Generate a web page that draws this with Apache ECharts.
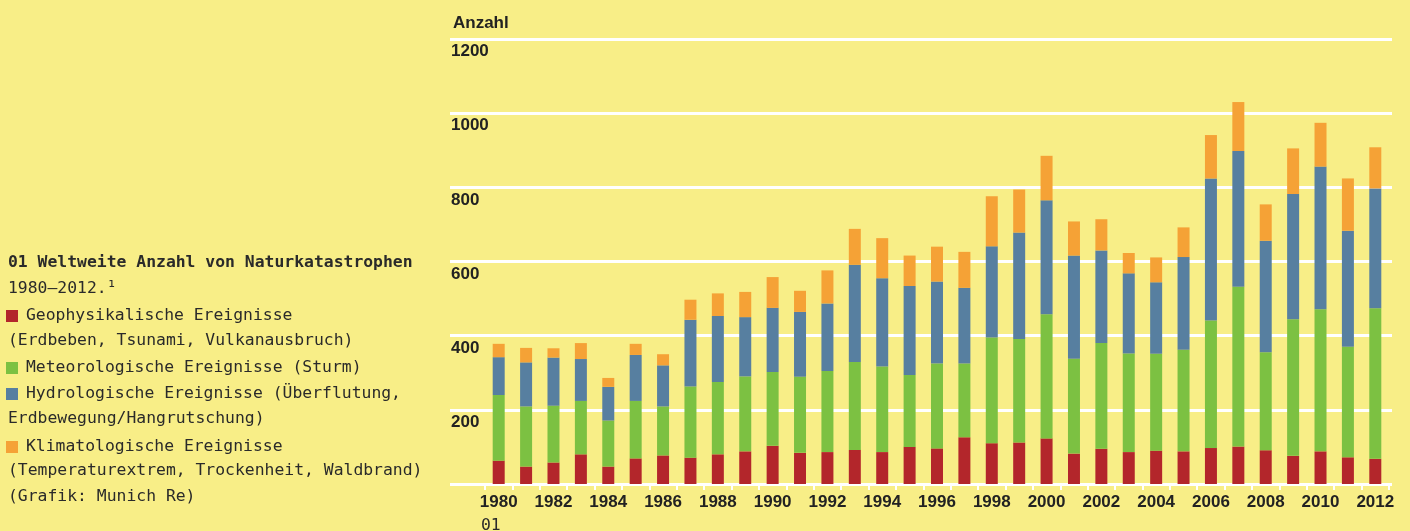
<!DOCTYPE html>
<html>
<head>
<meta charset="utf-8">
<script src="https://cdn.jsdelivr.net/npm/echarts@6/dist/echarts.min.js"></script>
<style>
html,body{margin:0;padding:0;background:#f8ee87;}
#main{width:1410px;height:531px;}
</style>
</head>
<body>
<div id="main"></div>
<script>
// Jahre und Anzahl je Kategorie (gestapelt)
var years = ['1980','1981','1982','1983','1984','1985','1986','1987','1988','1989','1990','1991','1992','1993','1994','1995','1996','1997','1998','1999','2000','2001','2002','2003','2004','2005','2006','2007','2008','2009','2010','2011','2012'];
var geo   = [63, 47, 58, 80, 47, 69, 77, 71, 80, 88, 103, 84, 86, 92, 86, 100, 96, 126, 110, 112, 123, 82, 95, 86, 90, 88, 97, 101, 91, 76, 88, 72, 68];
var meteo = [177, 162, 153, 144, 124, 155, 132, 192, 195, 202, 199, 205, 219, 237, 231, 194, 229, 199, 285, 279, 335, 256, 285, 266, 261, 274, 344, 431, 264, 368, 383, 298, 406];
var hydro = [102, 119, 130, 113, 91, 124, 111, 180, 178, 160, 173, 175, 182, 262, 238, 240, 221, 204, 246, 287, 307, 278, 250, 216, 193, 250, 383, 366, 301, 338, 385, 313, 323];
var klima = [36, 39, 25, 43, 24, 30, 30, 54, 61, 68, 83, 57, 89, 97, 108, 82, 94, 97, 135, 116, 120, 92, 84, 55, 67, 80, 117, 132, 98, 123, 118, 141, 111];
var yTicks = [0, 200, 400, 600, 800, 1000, 1200];

var names = ['Geophysikalische Ereignisse', 'Meteorologische Ereignisse (Sturm)', 'Hydrologische Ereignisse (Überflutung,', 'Klimatologische Ereignisse'];
var colors = ['#b3262b', '#7cc142', '#577fa0', '#f5a236'];
var labelFont = "'Liberation Sans Narrow', 'Liberation Sans', sans-serif";
var captionFont = "'DejaVu Sans Mono', monospace";
var capSize = 16.4;

var myChart = echarts.init(document.getElementById('main'));

function makeLegend(i, top) {
    return {
        data: [names[i]],
        left: 6, top: top,
        icon: 'rect', itemWidth: 12, itemHeight: 12, itemGap: 0,
        padding: 0,
        selectedMode: false,
        textStyle: {fontFamily: captionFont, fontSize: capSize, color: '#2a2a2a', padding: [0, 0, 0, 3]}
    };
}

function captionLine(txt, top, bold) {
    return {
        type: 'text', left: 8, top: top,
        style: {text: txt, font: (bold ? 'bold ' : '') + capSize + 'px ' + captionFont, fill: '#2a2a2a'}
    };
}

var option = {
    backgroundColor: '#f8ee87',
    animation: false,
    legend: [
        makeLegend(0, 308),
        makeLegend(1, 360),
        makeLegend(2, 386),
        makeLegend(3, 439)
    ],
    graphic: [
        captionLine('01 Weltweite Anzahl von Naturkatastrophen', 255, true),
        captionLine('1980–2012.¹', 281, false),
        captionLine('(Erdbeben, Tsunami, Vulkanausbruch)', 333, false),
        captionLine('Erdbewegung/Hangrutschung)', 411, false),
        captionLine('(Temperaturextrem, Trockenheit, Waldbrand)', 463, false),
        captionLine('(Grafik: Munich Re)', 489, false),
        {type: 'text', left: 481, top: 518, style: {text: '01', font: capSize + 'px ' + captionFont, fill: '#2a2a2a'}}
    ],
    grid: [
        {left: 450, right: 18, top: 39, bottom: 47},
        {left: 485, right: 21, top: 39, bottom: 47}
    ],
    xAxis: [
        {gridIndex: 0, type: 'value', show: false, min: 0, max: 1},
        {
            gridIndex: 1, type: 'category', data: years,
            axisLine: {show: false},
            axisTick: {show: true, interval: 0, length: 6, lineStyle: {color: '#ffffff', width: 2}},
            axisLabel: {interval: 1, margin: 10, fontFamily: labelFont, fontSize: 17, fontWeight: 'bold', color: '#222222'}
        }
    ],
    yAxis: [
        {
            gridIndex: 0, type: 'value', min: yTicks[0], max: yTicks[yTicks.length - 1], interval: 200,
            name: 'Anzahl', nameLocation: 'end', nameGap: 16,
            nameTextStyle: {align: 'left', verticalAlign: 'middle', fontFamily: labelFont, fontSize: 17, fontWeight: 'bold', color: '#222222', padding: [0, 0, 0, 3]},
            axisLine: {show: false}, axisTick: {show: false},
            splitLine: {show: true, lineStyle: {color: '#ffffff', width: 3}},
            axisLabel: {
                inside: true, margin: 1, verticalAlign: 'top', padding: [4, 0, 0, 0],
                fontFamily: labelFont, fontSize: 17, fontWeight: 'bold', color: '#222222',
                formatter: function (v) { return v === 0 ? '' : String(v); }
            }
        },
        {gridIndex: 1, type: 'value', min: 0, max: 1200, show: false, splitLine: {show: false}}
    ],
    series: [geo, meteo, hydro, klima].map(function (d, i) {
        return {
            name: names[i], type: 'bar', stack: 'total',
            xAxisIndex: 1, yAxisIndex: 1,
            barWidth: 12,
            itemStyle: {color: colors[i]},
            data: d
        };
    })
};
myChart.setOption(option);
</script>
</body>
</html>
